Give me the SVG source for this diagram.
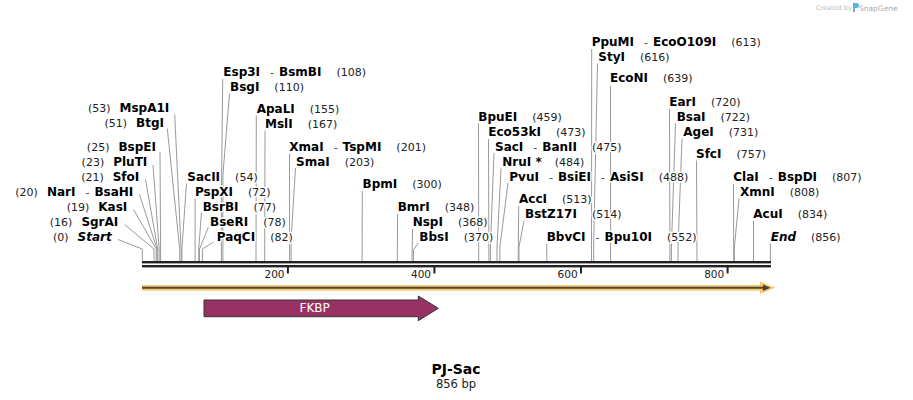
<svg xmlns="http://www.w3.org/2000/svg" width="913" height="400" viewBox="0 0 913 400">
<style>
text{font-family:"DejaVu Sans","Liberation Sans",sans-serif;fill:#000}
#labels text{paint-order:stroke;stroke:#fff;stroke-width:3px;stroke-linejoin:round}
.b{font-weight:bold;font-size:12px}
.i{font-style:italic}
.n{font-size:11px;font-weight:normal;fill:#222}
.d{font-size:11px;font-weight:normal;fill:#444}
.tk{font-size:10.5px;fill:#222}
.halo polyline{fill:none;stroke:#fff;stroke-width:3}
.line polyline{fill:none;stroke:#9a9a9a;stroke-width:1}
</style>
<rect width="913" height="400" fill="#fff"/>

<g id="watermark">
<text x="816" y="10" style="font-size:6.5px;fill:#bdbdbd">Created by</text>
<path d="M853,3 h3.5 a2.5,2.5 0 0 1 0,5 h-1.5 v4 h-2 z" fill="#5fb0e6"/>
<text x="859" y="11" style="font-size:7.5px;fill:#a9a9a9">SnapGene</text>
</g>

<g id="sequence">
<rect x="142" y="261" width="629" height="2.4" fill="#222"/>
<rect x="142" y="265" width="629" height="2.4" fill="#222"/>
<rect x="286.9" y="267" width="2" height="6.5" fill="#222"/>
<rect x="433.4" y="267" width="2" height="6.5" fill="#222"/>
<rect x="580" y="267" width="2" height="6.5" fill="#222"/>
<rect x="726.6" y="267" width="2" height="6.5" fill="#222"/>
<text class="tk" x="284.5" y="278" text-anchor="end">200</text>
<text class="tk" x="431" y="278" text-anchor="end">400</text>
<text class="tk" x="577.6" y="278" text-anchor="end">600</text>
<text class="tk" x="724.2" y="278" text-anchor="end">800</text>
</g>

<g id="feature-main">
<rect x="142" y="285" width="622" height="5.6" fill="#f8c86e"/>
<polygon points="760,281.5 775,287.8 760,294" fill="#f8c86e"/>
<line x1="142" y1="287.8" x2="765" y2="287.8" stroke="#4a4436" stroke-width="2"/>
<polygon points="763,284.6 770.5,287.8 763,291" fill="#4a4436"/>
</g>

<g id="feature-FKBP">
<polygon points="204,300 418.3,300 418.3,296 438.3,308.3 418.3,320.7 418.3,316.7 204,316.7" fill="#983263" stroke="#333" stroke-width="1"/>
<text x="314.7" y="312.3" text-anchor="middle" style="font-size:12px;fill:#fff">FKBP</text>
</g>

<g id="connectors">
<g class="halo">
<polyline points="118,239.5 142.3,249 142.3,261"/>
<polyline points="124.5,224.5 154,249 154,261"/>
<polyline points="133.5,209.5 156.2,249 156.2,261"/>
<polyline points="139.5,194.5 157,249 157,261"/>
<polyline points="145.5,179.5 157.7,249 157.7,261"/>
<polyline points="153,165 159.2,249 159.2,261"/>
<polyline points="160,152 160.6,249 160.6,261"/>
<polyline points="167.3,128.5 179.7,249 179.7,261"/>
<polyline points="174.7,114.5 181.1,249 181.1,261"/>
<polyline points="186.5,183.5 181.9,249 181.9,261"/>
<polyline points="195.1,198.5 195.1,261"/>
<polyline points="201.5,212.5 198.7,249 198.7,261"/>
<polyline points="208.3,227.5 199.5,249 199.5,261"/>
<polyline points="213.5,242 202.4,249 202.4,261"/>
<polyline points="222.7,79 221.4,200 221.4,261"/>
<polyline points="229.5,93.5 222.9,175 222.9,261"/>
<polyline points="256.3,115.5 256,261"/>
<polyline points="265,130.5 264.7,261"/>
<polyline points="289.5,153.5 289.6,261"/>
<polyline points="295.5,168 291.1,240 291.1,261"/>
<polyline points="362.3,191 362.1,261"/>
<polyline points="397.6,214 397.3,261"/>
<polyline points="412.5,229 412,261"/>
<polyline points="418,243 413.4,250 413.4,261"/>
<polyline points="478.5,123.5 478.7,261"/>
<polyline points="488.5,139 488.9,261"/>
<polyline points="494,153 490.4,247 490.4,261"/>
<polyline points="501,168.5 497,247 497,261"/>
<polyline points="508,183 499.9,247 499.9,261"/>
<polyline points="518.7,206 518.2,261"/>
<polyline points="524,220.5 519,247 519,261"/>
<polyline points="546.8,243.5 546.8,261"/>
<polyline points="591.7,49 591.5,261"/>
<polyline points="597.5,63.5 593.7,243 593.7,261"/>
<polyline points="610.5,85.5 610.6,261"/>
<polyline points="669.5,109 669.9,247 669.9,261"/>
<polyline points="675.5,123.5 671.4,247 671.4,261"/>
<polyline points="682,138.5 678,247 678,261"/>
<polyline points="696.5,160.5 697,261"/>
<polyline points="733.5,184 733.7,261"/>
<polyline points="739,198.5 734.4,247 734.4,261"/>
<polyline points="753.5,221 753.5,261"/>
<polyline points="770.5,243.5 770.3,261"/>
</g>
<g class="line">
<polyline points="118,239.5 142.3,249 142.3,261"/>
<polyline points="124.5,224.5 154,249 154,261"/>
<polyline points="133.5,209.5 156.2,249 156.2,261"/>
<polyline points="139.5,194.5 157,249 157,261"/>
<polyline points="145.5,179.5 157.7,249 157.7,261"/>
<polyline points="153,165 159.2,249 159.2,261"/>
<polyline points="160,152 160.6,249 160.6,261"/>
<polyline points="167.3,128.5 179.7,249 179.7,261"/>
<polyline points="174.7,114.5 181.1,249 181.1,261"/>
<polyline points="186.5,183.5 181.9,249 181.9,261"/>
<polyline points="195.1,198.5 195.1,261"/>
<polyline points="201.5,212.5 198.7,249 198.7,261"/>
<polyline points="208.3,227.5 199.5,249 199.5,261"/>
<polyline points="213.5,242 202.4,249 202.4,261"/>
<polyline points="222.7,79 221.4,200 221.4,261"/>
<polyline points="229.5,93.5 222.9,175 222.9,261"/>
<polyline points="256.3,115.5 256,261"/>
<polyline points="265,130.5 264.7,261"/>
<polyline points="289.5,153.5 289.6,261"/>
<polyline points="295.5,168 291.1,240 291.1,261"/>
<polyline points="362.3,191 362.1,261"/>
<polyline points="397.6,214 397.3,261"/>
<polyline points="412.5,229 412,261"/>
<polyline points="418,243 413.4,250 413.4,261"/>
<polyline points="478.5,123.5 478.7,261"/>
<polyline points="488.5,139 488.9,261"/>
<polyline points="494,153 490.4,247 490.4,261"/>
<polyline points="501,168.5 497,247 497,261"/>
<polyline points="508,183 499.9,247 499.9,261"/>
<polyline points="518.7,206 518.2,261"/>
<polyline points="524,220.5 519,247 519,261"/>
<polyline points="546.8,243.5 546.8,261"/>
<polyline points="591.7,49 591.5,261"/>
<polyline points="597.5,63.5 593.7,243 593.7,261"/>
<polyline points="610.5,85.5 610.6,261"/>
<polyline points="669.5,109 669.9,247 669.9,261"/>
<polyline points="675.5,123.5 671.4,247 671.4,261"/>
<polyline points="682,138.5 678,247 678,261"/>
<polyline points="696.5,160.5 697,261"/>
<polyline points="733.5,184 733.7,261"/>
<polyline points="739,198.5 734.4,247 734.4,261"/>
<polyline points="753.5,221 753.5,261"/>
<polyline points="770.5,243.5 770.3,261"/>
</g>
</g>

<g id="labels">
<g id="l-Start"><text x="111.7" y="240.7" text-anchor="end"><tspan class="n">(0)</tspan><tspan class="b i" dx="9">Start</tspan></text></g>
<g id="l-SgrAI"><text x="118.3" y="225.7" text-anchor="end"><tspan class="n">(16)</tspan><tspan class="b" dx="9">SgrAI</tspan></text></g>
<g id="l-KasI"><text x="127.3" y="210.7" text-anchor="end"><tspan class="n">(19)</tspan><tspan class="b" dx="9">KasI</tspan></text></g>
<g id="l-NarI"><text x="133.3" y="195.7" text-anchor="end"><tspan class="n">(20)</tspan><tspan class="b" dx="9">NarI</tspan><tspan class="d" dx="10">-</tspan><tspan class="b" dx="5">BsaHI</tspan></text></g>
<g id="l-SfoI"><text x="139.3" y="180.7" text-anchor="end"><tspan class="n">(21)</tspan><tspan class="b" dx="9">SfoI</tspan></text></g>
<g id="l-PluTI"><text x="147.3" y="165.7" text-anchor="end"><tspan class="n">(23)</tspan><tspan class="b" dx="9">PluTI</tspan></text></g>
<g id="l-BspEI"><text x="156" y="150.7" text-anchor="end"><tspan class="n">(25)</tspan><tspan class="b" dx="9">BspEI</tspan></text></g>
<g id="l-BtgI"><text x="164" y="127.3" text-anchor="end"><tspan class="n">(51)</tspan><tspan class="b" dx="9">BtgI</tspan></text></g>
<g id="l-MspA1I"><text x="169.3" y="112.3" text-anchor="end"><tspan class="n">(53)</tspan><tspan class="b" dx="9">MspA1I</tspan></text></g>

<g id="l-SacII"><text x="187.3" y="180.7"><tspan class="b">SacII</tspan><tspan class="n" dx="15">(54)</tspan></text></g>
<g id="l-PspXI"><text x="195" y="195.7"><tspan class="b">PspXI</tspan><tspan class="n" dx="15">(72)</tspan></text></g>
<g id="l-BsrBI"><text x="202.7" y="210.7"><tspan class="b">BsrBI</tspan><tspan class="n" dx="15">(77)</tspan></text></g>
<g id="l-BseRI"><text x="210" y="225.7"><tspan class="b">BseRI</tspan><tspan class="n" dx="15">(78)</tspan></text></g>
<g id="l-PaqCI"><text x="216.7" y="240.7"><tspan class="b">PaqCI</tspan><tspan class="n" dx="15">(82)</tspan></text></g>
<g id="l-Esp3I"><text x="223.3" y="76"><tspan class="b">Esp3I</tspan><tspan class="d" dx="10">-</tspan><tspan class="b" dx="5">BsmBI</tspan><tspan class="n" dx="15">(108)</tspan></text></g>
<g id="l-BsgI"><text x="230" y="91"><tspan class="b">BsgI</tspan><tspan class="n" dx="15">(110)</tspan></text></g>
<g id="l-ApaLI"><text x="256.7" y="112.7"><tspan class="b">ApaLI</tspan><tspan class="n" dx="15">(155)</tspan></text></g>
<g id="l-MslI"><text x="265" y="127.7"><tspan class="b">MslI</tspan><tspan class="n" dx="15">(167)</tspan></text></g>
<g id="l-XmaI"><text x="289.3" y="150.7"><tspan class="b">XmaI</tspan><tspan class="d" dx="10">-</tspan><tspan class="b" dx="5">TspMI</tspan><tspan class="n" dx="15">(201)</tspan></text></g>
<g id="l-SmaI"><text x="296" y="165.7"><tspan class="b">SmaI</tspan><tspan class="n" dx="15">(203)</tspan></text></g>
<g id="l-BpmI"><text x="362.5" y="188"><tspan class="b">BpmI</tspan><tspan class="n" dx="15">(300)</tspan></text></g>
<g id="l-BmrI"><text x="397.7" y="211"><tspan class="b">BmrI</tspan><tspan class="n" dx="15">(348)</tspan></text></g>
<g id="l-NspI"><text x="412.7" y="226"><tspan class="b">NspI</tspan><tspan class="n" dx="15">(368)</tspan></text></g>
<g id="l-BbsI"><text x="419.3" y="240.7"><tspan class="b">BbsI</tspan><tspan class="n" dx="15">(370)</tspan></text></g>
<g id="l-BpuEI"><text x="478.3" y="120.7"><tspan class="b">BpuEI</tspan><tspan class="n" dx="15">(459)</tspan></text></g>
<g id="l-Eco53kI"><text x="488.3" y="136"><tspan class="b">Eco53kI</tspan><tspan class="n" dx="15">(473)</tspan></text></g>
<g id="l-SacI"><text x="495" y="150.7"><tspan class="b">SacI</tspan><tspan class="d" dx="10">-</tspan><tspan class="b" dx="5">BanII</tspan><tspan class="n" dx="15">(475)</tspan></text></g>
<g id="l-NruI"><text x="502.3" y="166"><tspan class="b">NruI *</tspan><tspan class="n" dx="13">(484)</tspan></text></g>
<g id="l-PvuI"><text x="509.3" y="180.7"><tspan class="b">PvuI</tspan><tspan class="d" dx="10">-</tspan><tspan class="b" dx="5">BsiEI</tspan><tspan class="d" dx="10">-</tspan><tspan class="b" dx="5">AsiSI</tspan><tspan class="n" dx="15">(488)</tspan></text></g>
<g id="l-AccI"><text x="519" y="203"><tspan class="b">AccI</tspan><tspan class="n" dx="15">(513)</tspan></text></g>
<g id="l-BstZ17I"><text x="525" y="218"><tspan class="b">BstZ17I</tspan><tspan class="n" dx="15">(514)</tspan></text></g>
<g id="l-BbvCI"><text x="546.7" y="240.7"><tspan class="b">BbvCI</tspan><tspan class="d" dx="10">-</tspan><tspan class="b" dx="5">Bpu10I</tspan><tspan class="n" dx="15">(552)</tspan></text></g>
<g id="l-PpuMI"><text x="591.7" y="46"><tspan class="b">PpuMI</tspan><tspan class="d" dx="10">-</tspan><tspan class="b" dx="5">EcoO109I</tspan><tspan class="n" dx="15">(613)</tspan></text></g>
<g id="l-StyI"><text x="598.3" y="61"><tspan class="b">StyI</tspan><tspan class="n" dx="15">(616)</tspan></text></g>
<g id="l-EcoNI"><text x="610" y="82.3"><tspan class="b">EcoNI</tspan><tspan class="n" dx="15">(639)</tspan></text></g>
<g id="l-EarI"><text x="669.3" y="106"><tspan class="b">EarI</tspan><tspan class="n" dx="15">(720)</tspan></text></g>
<g id="l-BsaI"><text x="676.7" y="121"><tspan class="b">BsaI</tspan><tspan class="n" dx="15">(722)</tspan></text></g>
<g id="l-AgeI"><text x="683.3" y="136"><tspan class="b">AgeI</tspan><tspan class="n" dx="15">(731)</tspan></text></g>
<g id="l-SfcI"><text x="696" y="157.5"><tspan class="b">SfcI</tspan><tspan class="n" dx="15">(757)</tspan></text></g>
<g id="l-ClaI"><text x="733.3" y="181"><tspan class="b">ClaI</tspan><tspan class="d" dx="10">-</tspan><tspan class="b" dx="5">BspDI</tspan><tspan class="n" dx="15">(807)</tspan></text></g>
<g id="l-XmnI"><text x="740" y="196"><tspan class="b">XmnI</tspan><tspan class="n" dx="15">(808)</tspan></text></g>
<g id="l-AcuI"><text x="753.3" y="218.3"><tspan class="b">AcuI</tspan><tspan class="n" dx="15">(834)</tspan></text></g>
<g id="l-End"><text x="770.7" y="240.7"><tspan class="b i">End</tspan><tspan class="n" dx="15">(856)</tspan></text></g>
</g>

<g id="title">
<text x="456" y="373.5" text-anchor="middle" style="font-size:14px;font-weight:bold">PJ-Sac</text>
<text x="456" y="387.5" text-anchor="middle" style="font-size:11.5px;fill:#222">856 bp</text>
</g>
</svg>
